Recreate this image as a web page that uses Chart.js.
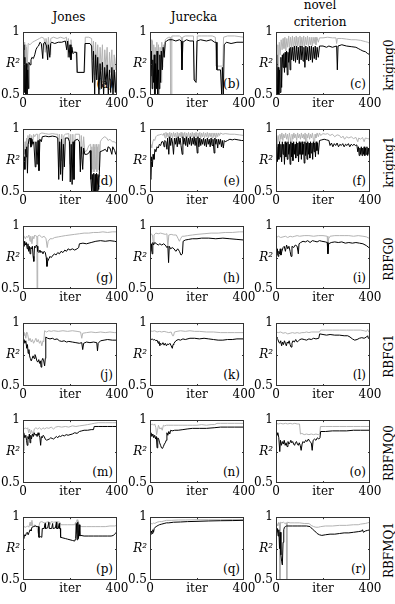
<!DOCTYPE html>
<html>
<head>
<meta charset="utf-8">
<script src="https://cdn.jsdelivr.net/npm/chart.js@4.4.1/dist/chart.umd.min.js"></script>
<style>
  body { margin: 0; background: #fff; }
  #fig { position: relative; width: 395px; height: 604px; overflow: hidden; font-family: 'DejaVu Serif', serif; color: #000; }
  .txt { position: absolute; font-size: 12px; line-height: 14px; white-space: nowrap; z-index: 0; }
  .panel { position: absolute; z-index: 1; }
</style>
</head>
<body>
<div id="fig"></div>
<script>
// axis ticks (the middle tick carries the axis name, like the original)
const xTicks = [0, 200, 400];
const xTickLabels = ['0', 'iter', '400'];
const yTicks = [0.5, 0.75, 1];
const yTickLabels = ['0.5', 'R²', '1'];

const methods = ['Jones', 'Jurecka', 'novel criterion'];
const models = ['kriging0', 'kriging1', 'RBFG0', 'RBFG1', 'RBFMQ0', 'RBFMQ1'];
const panelTags = ['(a)','(b)','(c)','(d)','(e)','(f)','(g)','(h)','(i)','(j)','(k)','(l)','(m)','(n)','(o)','(p)','(q)','(r)'];

// [iter, R2]; black = first series, gray = second
const jonesK0Black = [[0,0.9],[4,0.86],[6,0.52],[8,0.8],[11,0.5],[14,0.75],[17,0.5],[20,0.7],[23,0.55],[25,0.76],[30,0.74],[34,0.78],[38,0.8],[44,0.79],[50,0.82],[55,0.86],[60,0.88],[66,0.89],[72,0.92],[78,0.91],[84,0.79],[87,0.91],[94,0.92],[100,0.89],[105,0.78],[108,0.9],[114,0.8],[118,0.91],[122,0.92],[135,0.91],[150,0.92],[165,0.92],[180,0.93],[186,0.86],[190,0.93],[196,0.8],[200,0.9],[204,0.78],[208,0.88],[212,0.83],[220,0.84],[228,0.84],[231,0.68],[260,0.68],[264,0.91],[285,0.91],[292,0.89],[296,0.6],[300,0.85],[305,0.5],[309,0.82],[314,0.62],[318,0.8],[323,0.5],[328,0.75],[333,0.55],[338,0.76],[343,0.5],[348,0.72],[353,0.58],[358,0.74],[363,0.5],[368,0.7],[373,0.52],[378,0.72],[383,0.5],[388,0.7],[393,0.52],[397,0.68],[400,0.66]];
const jonesK0Gray = [[0,0.93],[5,0.92],[7,0.55],[9,0.9],[12,0.52],[15,0.88],[18,0.72],[22,0.91],[30,0.9],[40,0.92],[50,0.93],[60,0.94],[70,0.95],[80,0.96],[90,0.95],[95,0.84],[98,0.95],[105,0.87],[108,0.96],[115,0.82],[118,0.95],[130,0.96],[145,0.95],[160,0.96],[175,0.95],[185,0.96],[190,0.8],[193,0.95],[200,0.79],[204,0.94],[210,0.85],[226,0.84],[229,0.68],[262,0.68],[265,0.96],[280,0.96],[292,0.95],[296,0.78],[300,0.93],[305,0.66],[309,0.92],[314,0.72],[318,0.9],[323,0.6],[328,0.88],[333,0.7],[338,0.9],[343,0.58],[348,0.86],[353,0.72],[358,0.88],[363,0.55],[368,0.84],[373,0.68],[378,0.86],[383,0.56],[388,0.82],[393,0.7],[397,0.8],[400,0.8]];

const jureckaK0Black = [[0,0.8],[3,0.65],[6,0.85],[9,0.55],[12,0.78],[15,0.6],[18,0.82],[21,0.5],[24,0.75],[27,0.55],[30,0.85],[33,0.5],[36,0.7],[39,0.55],[42,0.82],[45,0.6],[48,0.85],[52,0.7],[56,0.88],[60,0.8],[65,0.92],[70,0.93],[80,0.94],[95,0.94],[110,0.93],[125,0.94],[133,0.93],[136,0.7],[140,0.92],[155,0.94],[170,0.93],[185,0.93],[188,0.62],[196,0.6],[200,0.93],[215,0.94],[240,0.93],[260,0.94],[275,0.92],[282,0.92],[285,0.7],[300,0.7],[305,0.5],[308,0.72],[312,0.5],[316,0.9],[325,0.92],[345,0.91],[370,0.92],[400,0.92]];
const jureckaK0Gray = [[0,0.92],[3,0.85],[5,0.94],[8,0.7],[10,0.93],[13,0.62],[16,0.9],[19,0.5],[22,0.88],[26,0.55],[29,0.92],[33,0.65],[36,0.9],[40,0.5],[43,0.88],[47,0.6],[50,0.92],[54,0.72],[57,0.9],[62,0.8],[65,0.94],[70,0.95],[80,0.96],[86,0.96],[88,0.5],[91,0.5],[93,0.97],[110,0.97],[125,0.97],[133,0.96],[136,0.78],[139,0.96],[150,0.97],[170,0.97],[185,0.97],[188,0.62],[198,0.62],[201,0.97],[220,0.97],[245,0.97],[265,0.97],[278,0.96],[281,0.73],[310,0.73],[313,0.96],[330,0.97],[360,0.97],[400,0.96]];

const novelK0Black = [[0,0.82],[2,0.6],[4,0.78],[6,0.5],[9,0.72],[12,0.5],[15,0.7],[18,0.52],[21,0.8],[24,0.56],[27,0.82],[30,0.72],[33,0.83],[36,0.68],[39,0.84],[42,0.72],[45,0.85],[48,0.66],[51,0.84],[54,0.76],[57,0.87],[60,0.7],[63,0.88],[67,0.78],[71,0.88],[75,0.77],[79,0.89],[83,0.76],[87,0.89],[91,0.78],[95,0.88],[99,0.75],[103,0.89],[107,0.78],[111,0.89],[115,0.77],[119,0.88],[123,0.72],[127,0.89],[131,0.78],[135,0.88],[139,0.77],[143,0.89],[147,0.78],[151,0.89],[155,0.76],[159,0.88],[163,0.79],[167,0.89],[171,0.78],[175,0.88],[180,0.8],[185,0.89],[200,0.89],[215,0.88],[225,0.89],[240,0.88],[258,0.89],[261,0.7],[264,0.89],[280,0.9],[300,0.89],[320,0.885],[340,0.88],[350,0.87],[360,0.86],[370,0.85],[380,0.845],[390,0.83],[400,0.82]];
const novelK0Gray = [[0,0.9],[3,0.88],[5,0.62],[8,0.9],[11,0.7],[14,0.92],[18,0.82],[22,0.94],[26,0.86],[30,0.95],[34,0.87],[38,0.96],[42,0.85],[46,0.95],[50,0.88],[54,0.97],[58,0.87],[62,0.96],[66,0.88],[70,0.97],[74,0.86],[78,0.96],[82,0.89],[86,0.97],[90,0.87],[94,0.96],[98,0.89],[102,0.97],[106,0.88],[110,0.96],[114,0.89],[118,0.97],[122,0.88],[126,0.96],[130,0.9],[134,0.97],[138,0.88],[142,0.96],[146,0.9],[150,0.96],[154,0.89],[158,0.96],[162,0.91],[166,0.96],[170,0.9],[174,0.96],[180,0.92],[185,0.955],[200,0.955],[220,0.96],[240,0.955],[255,0.955],[258,0.91],[261,0.95],[280,0.95],[300,0.945],[320,0.94],[340,0.94],[360,0.935],[380,0.925],[390,0.92],[400,0.91]];

const jonesK1Black = [[0,0.75],[3,0.7],[5,0.78],[8,0.68],[10,0.84],[13,0.78],[16,0.86],[19,0.65],[22,0.88],[26,0.92],[30,0.93],[34,0.86],[38,0.92],[42,0.88],[46,0.9],[52,0.7],[55,0.9],[60,0.72],[64,0.91],[68,0.67],[72,0.92],[78,0.9],[82,0.94],[95,0.945],[110,0.94],[125,0.945],[140,0.94],[148,0.93],[152,0.6],[156,0.9],[160,0.64],[164,0.92],[168,0.59],[172,0.88],[176,0.7],[180,0.93],[192,0.93],[198,0.9],[201,0.58],[205,0.88],[209,0.56],[213,0.9],[217,0.6],[220,0.91],[232,0.92],[240,0.9],[244,0.66],[248,0.86],[254,0.68],[258,0.85],[263,0.8],[272,0.8],[280,0.81],[286,0.83],[289,0.6],[292,0.5],[295,0.64],[298,0.5],[301,0.65],[304,0.5],[307,0.64],[310,0.5],[313,0.65],[316,0.5],[319,0.64],[322,0.52],[325,0.66],[328,0.82],[340,0.83],[350,0.84],[358,0.82],[362,0.86],[370,0.85],[378,0.8],[382,0.86],[390,0.83],[395,0.8],[400,0.82]];
const jonesK1Gray = [[0,0.85],[3,0.88],[6,0.8],[9,0.9],[12,0.84],[15,0.93],[18,0.86],[21,0.95],[25,0.88],[29,0.96],[33,0.85],[37,0.95],[41,0.87],[45,0.96],[50,0.94],[55,0.96],[62,0.96],[66,0.7],[69,0.96],[80,0.97],[95,0.965],[110,0.96],[125,0.965],[140,0.96],[148,0.96],[152,0.7],[155,0.96],[162,0.75],[165,0.96],[170,0.68],[174,0.95],[180,0.96],[195,0.965],[200,0.72],[203,0.96],[208,0.6],[212,0.96],[218,0.7],[222,0.96],[240,0.96],[244,0.76],[248,0.95],[254,0.8],[258,0.94],[263,0.82],[272,0.83],[280,0.87],[288,0.88],[290,0.66],[293,0.86],[296,0.68],[299,0.88],[302,0.66],[305,0.86],[308,0.68],[311,0.88],[314,0.66],[317,0.86],[320,0.68],[323,0.88],[326,0.7],[329,0.9],[335,0.92],[340,0.93],[348,0.94],[356,0.93],[362,0.91],[370,0.92],[380,0.9],[388,0.9],[395,0.89],[400,0.9]];

const jureckaK1Black = [[0,0.66],[2,0.76],[4,0.6],[7,0.78],[10,0.7],[13,0.8],[17,0.76],[21,0.84],[25,0.82],[30,0.86],[35,0.85],[40,0.88],[45,0.87],[50,0.9],[56,0.9],[60,0.86],[63,0.91],[68,0.9],[72,0.84],[75,0.93],[80,0.8],[84,0.94],[88,0.87],[92,0.93],[96,0.89],[100,0.8],[104,0.93],[108,0.88],[112,0.93],[116,0.86],[120,0.94],[124,0.88],[128,0.93],[132,0.87],[137,0.8],[140,0.94],[144,0.88],[148,0.93],[152,0.87],[156,0.94],[160,0.86],[164,0.93],[168,0.88],[172,0.94],[176,0.87],[180,0.93],[184,0.88],[188,0.94],[192,0.87],[196,0.93],[201,0.81],[204,0.94],[208,0.86],[212,0.93],[216,0.87],[220,0.92],[224,0.88],[228,0.93],[232,0.87],[236,0.92],[240,0.86],[244,0.93],[248,0.88],[252,0.92],[256,0.86],[260,0.93],[264,0.87],[268,0.92],[273,0.81],[276,0.93],[280,0.88],[284,0.92],[288,0.85],[292,0.92],[296,0.88],[300,0.92],[304,0.86],[308,0.91],[312,0.85],[316,0.91],[320,0.9],[330,0.91],[340,0.92],[350,0.915],[360,0.92],[375,0.915],[390,0.91],[400,0.91]];
const jureckaK1Gray = [[0,0.86],[4,0.88],[8,0.85],[12,0.9],[16,0.92],[20,0.91],[25,0.94],[30,0.95],[40,0.955],[50,0.96],[56,0.95],[60,0.97],[64,0.93],[68,0.975],[72,0.94],[76,0.97],[80,0.93],[84,0.975],[88,0.94],[92,0.97],[96,0.93],[100,0.975],[104,0.94],[108,0.97],[112,0.92],[116,0.975],[120,0.93],[124,0.97],[128,0.94],[132,0.975],[136,0.93],[140,0.97],[144,0.94],[148,0.975],[152,0.93],[156,0.97],[160,0.94],[164,0.975],[168,0.93],[172,0.97],[176,0.94],[180,0.975],[184,0.93],[188,0.97],[192,0.94],[196,0.975],[200,0.93],[204,0.97],[208,0.94],[212,0.975],[216,0.93],[220,0.97],[224,0.94],[228,0.975],[232,0.93],[236,0.97],[240,0.94],[244,0.975],[248,0.93],[252,0.97],[256,0.94],[260,0.97],[264,0.93],[268,0.97],[272,0.94],[276,0.97],[280,0.93],[284,0.97],[288,0.94],[292,0.97],[296,0.95],[300,0.97],[310,0.96],[320,0.965],[340,0.96],[360,0.96],[380,0.955],[400,0.95]];

const novelK1Black = [[0,0.76],[3,0.86],[6,0.74],[9,0.88],[12,0.76],[15,0.9],[18,0.78],[21,0.88],[24,0.74],[27,0.9],[30,0.8],[33,0.88],[36,0.72],[39,0.9],[42,0.78],[45,0.89],[48,0.76],[51,0.9],[54,0.8],[57,0.88],[60,0.72],[63,0.9],[66,0.78],[69,0.89],[72,0.75],[75,0.9],[78,0.8],[81,0.88],[84,0.77],[87,0.9],[90,0.79],[93,0.89],[96,0.74],[99,0.9],[102,0.8],[105,0.89],[108,0.76],[111,0.9],[114,0.8],[117,0.88],[120,0.73],[123,0.9],[126,0.79],[129,0.89],[132,0.76],[135,0.9],[138,0.8],[141,0.89],[144,0.77],[147,0.9],[150,0.81],[153,0.89],[156,0.76],[159,0.9],[162,0.82],[165,0.89],[168,0.78],[171,0.9],[174,0.83],[177,0.89],[180,0.8],[185,0.91],[195,0.915],[205,0.92],[215,0.915],[225,0.91],[230,0.87],[236,0.89],[242,0.86],[248,0.885],[254,0.87],[260,0.89],[266,0.86],[272,0.88],[278,0.87],[284,0.885],[290,0.86],[296,0.88],[302,0.87],[308,0.885],[314,0.86],[320,0.88],[326,0.87],[332,0.88],[338,0.87],[344,0.875],[348,0.82],[351,0.86],[354,0.79],[357,0.85],[360,0.8],[363,0.86],[366,0.79],[369,0.85],[372,0.8],[375,0.86],[378,0.79],[381,0.85],[384,0.8],[387,0.86],[390,0.79],[393,0.85],[396,0.8],[400,0.84]];
const novelK1Gray = [[0,0.9],[3,0.94],[6,0.88],[9,0.95],[13,0.9],[17,0.96],[21,0.92],[25,0.97],[29,0.91],[33,0.96],[37,0.93],[41,0.97],[45,0.92],[49,0.96],[53,0.9],[57,0.97],[61,0.93],[65,0.83],[68,0.96],[72,0.92],[76,0.97],[80,0.93],[84,0.96],[88,0.91],[92,0.97],[96,0.93],[100,0.96],[104,0.92],[108,0.97],[112,0.93],[116,0.96],[120,0.92],[124,0.97],[128,0.84],[131,0.96],[135,0.93],[139,0.97],[143,0.92],[147,0.96],[151,0.93],[155,0.97],[159,0.92],[163,0.84],[166,0.96],[170,0.93],[175,0.97],[180,0.94],[185,0.97],[190,0.95],[200,0.965],[210,0.96],[220,0.965],[230,0.95],[240,0.96],[250,0.94],[260,0.955],[270,0.95],[278,0.93],[285,0.945],[292,0.92],[300,0.94],[310,0.93],[320,0.94],[330,0.925],[340,0.935],[348,0.9],[352,0.93],[360,0.92],[368,0.935],[375,0.9],[380,0.93],[390,0.925],[400,0.92]];

const jonesG0Black = [[0,0.86],[4,0.84],[7,0.88],[10,0.85],[14,0.87],[18,0.82],[21,0.86],[24,0.8],[27,0.84],[30,0.78],[33,0.83],[36,0.82],[40,0.84],[43,0.76],[46,0.72],[49,0.84],[53,0.83],[57,0.85],[60,0.84],[63,0.8],[68,0.79],[72,0.81],[76,0.79],[80,0.8],[85,0.78],[90,0.8],[95,0.79],[99,0.75],[102,0.68],[105,0.72],[110,0.74],[115,0.76],[120,0.75],[128,0.77],[135,0.78],[140,0.77],[148,0.79],[155,0.78],[162,0.8],[170,0.79],[178,0.81],[185,0.8],[192,0.82],[200,0.81],[210,0.82],[220,0.81],[230,0.82],[237,0.83],[240,0.86],[255,0.865],[270,0.86],[290,0.87],[310,0.88],[330,0.885],[350,0.88],[370,0.885],[390,0.88],[400,0.875]];
const jonesG0Gray = [[0,0.915],[5,0.92],[10,0.9],[15,0.92],[20,0.91],[25,0.93],[30,0.88],[33,0.92],[38,0.86],[42,0.92],[46,0.9],[50,0.93],[55,0.92],[59,0.92],[60,0.5],[62,0.5],[63,0.92],[70,0.93],[80,0.91],[90,0.92],[98,0.9],[103,0.83],[107,0.88],[115,0.9],[125,0.9],[135,0.91],[150,0.915],[165,0.92],[180,0.925],[200,0.93],[220,0.935],[240,0.94],[260,0.945],[280,0.945],[300,0.95],[320,0.95],[340,0.955],[360,0.95],[380,0.955],[400,0.955]];

const jureckaG0Black = [[0,0.84],[3,0.8],[6,0.86],[9,0.78],[12,0.87],[15,0.85],[20,0.87],[28,0.86],[35,0.85],[42,0.86],[50,0.85],[58,0.86],[65,0.85],[72,0.83],[76,0.84],[79,0.71],[82,0.84],[88,0.82],[95,0.83],[102,0.82],[110,0.8],[118,0.82],[125,0.8],[132,0.77],[138,0.78],[141,0.88],[150,0.89],[165,0.895],[180,0.9],[200,0.9],[220,0.905],[250,0.905],[280,0.9],[310,0.905],[340,0.9],[370,0.895],[400,0.89]];
const jureckaG0Gray = [[0,0.91],[5,0.94],[10,0.93],[14,0.87],[17,0.93],[25,0.945],[35,0.94],[45,0.945],[55,0.94],[65,0.935],[72,0.94],[76,0.83],[80,0.93],[90,0.935],[100,0.93],[112,0.93],[120,0.9],[125,0.88],[130,0.9],[137,0.92],[145,0.92],[160,0.925],[180,0.93],[200,0.935],[230,0.94],[260,0.945],[290,0.945],[320,0.95],[350,0.95],[380,0.955],[400,0.955]];

const novelG0Black = [[0,0.8],[3,0.77],[6,0.82],[9,0.76],[12,0.8],[15,0.78],[18,0.82],[21,0.77],[25,0.8],[30,0.83],[35,0.84],[40,0.8],[45,0.85],[50,0.82],[55,0.84],[60,0.8],[64,0.76],[68,0.84],[75,0.83],[82,0.85],[90,0.84],[95,0.78],[98,0.86],[105,0.87],[115,0.88],[125,0.875],[135,0.885],[145,0.87],[155,0.885],[165,0.88],[175,0.875],[185,0.885],[195,0.88],[210,0.875],[218,0.87],[221,0.78],[224,0.86],[235,0.87],[250,0.875],[265,0.87],[280,0.875],[295,0.865],[310,0.87],[325,0.865],[340,0.87],[355,0.865],[370,0.86],[385,0.845],[395,0.83],[400,0.82]];
const novelG0Gray = [[0,0.5],[2,0.5],[3,0.91],[10,0.92],[20,0.91],[30,0.915],[40,0.92],[50,0.91],[60,0.92],[70,0.915],[80,0.92],[90,0.925],[100,0.92],[120,0.925],[140,0.925],[160,0.92],[180,0.925],[200,0.925],[218,0.92],[221,0.8],[224,0.9],[230,0.92],[250,0.925],[270,0.925],[290,0.925],[310,0.925],[330,0.92],[350,0.925],[370,0.92],[385,0.915],[400,0.9]];

const jonesG1Black = [[0,0.85],[4,0.87],[8,0.84],[12,0.86],[16,0.8],[19,0.83],[22,0.76],[25,0.79],[28,0.74],[31,0.72],[35,0.7],[39,0.72],[43,0.74],[47,0.72],[51,0.75],[55,0.73],[59,0.7],[63,0.69],[67,0.71],[71,0.68],[74,0.7],[77,0.65],[80,0.7],[84,0.72],[88,0.7],[92,0.66],[95,0.72],[97,0.89],[105,0.88],[115,0.875],[125,0.88],[135,0.87],[145,0.875],[155,0.86],[165,0.855],[175,0.86],[185,0.85],[195,0.855],[210,0.85],[225,0.845],[240,0.84],[250,0.845],[254,0.79],[258,0.84],[270,0.85],[285,0.845],[300,0.85],[314,0.845],[317,0.78],[320,0.84],[330,0.86],[345,0.865],[360,0.87],[380,0.865],[400,0.865]];
const jonesG1Gray = [[0,0.93],[4,0.9],[8,0.92],[12,0.88],[16,0.93],[20,0.91],[25,0.86],[30,0.88],[35,0.85],[40,0.87],[45,0.84],[50,0.86],[55,0.88],[60,0.85],[65,0.87],[70,0.84],[75,0.86],[80,0.82],[85,0.86],[88,0.85],[92,0.94],[100,0.93],[110,0.94],[120,0.935],[130,0.94],[150,0.935],[170,0.94],[190,0.935],[210,0.94],[230,0.935],[245,0.93],[250,0.88],[254,0.92],[270,0.925],[290,0.93],[310,0.925],[330,0.93],[350,0.925],[370,0.93],[390,0.925],[400,0.925]];

const jureckaG1Black = [[0,0.875],[5,0.87],[10,0.875],[15,0.865],[20,0.87],[25,0.86],[30,0.865],[35,0.84],[38,0.855],[42,0.82],[45,0.84],[50,0.83],[55,0.845],[60,0.825],[65,0.84],[70,0.82],[75,0.835],[80,0.83],[85,0.84],[90,0.82],[95,0.8],[98,0.83],[102,0.84],[110,0.86],[120,0.87],[130,0.865],[140,0.875],[150,0.87],[170,0.88],[190,0.88],[210,0.875],[230,0.88],[250,0.875],[270,0.87],[290,0.865],[310,0.865],[330,0.87],[350,0.87],[370,0.875],[400,0.875]];
const jureckaG1Gray = [[0,0.94],[10,0.935],[20,0.94],[30,0.93],[40,0.935],[50,0.93],[60,0.935],[70,0.93],[80,0.925],[90,0.93],[96,0.9],[100,0.9],[104,0.93],[115,0.935],[130,0.94],[150,0.935],[170,0.94],[190,0.935],[210,0.935],[240,0.93],[270,0.93],[300,0.925],[330,0.925],[360,0.925],[400,0.925]];

const novelG1Black = [[0,0.89],[4,0.88],[8,0.87],[12,0.85],[16,0.84],[20,0.86],[24,0.82],[28,0.85],[32,0.83],[36,0.86],[40,0.84],[44,0.82],[48,0.85],[52,0.84],[56,0.86],[60,0.83],[64,0.81],[68,0.84],[72,0.86],[78,0.85],[84,0.87],[90,0.85],[96,0.86],[102,0.87],[110,0.875],[120,0.87],[130,0.865],[140,0.875],[150,0.87],[160,0.88],[170,0.875],[182,0.88],[186,0.915],[200,0.91],[215,0.905],[230,0.91],[250,0.905],[270,0.905],[290,0.9],[305,0.9],[315,0.89],[325,0.875],[335,0.865],[345,0.87],[355,0.88],[365,0.885],[375,0.88],[385,0.89],[390,0.9],[393,0.88],[400,0.875]];
const novelG1Gray = [[0,0.93],[10,0.925],[20,0.93],[30,0.92],[40,0.925],[50,0.915],[60,0.92],[70,0.925],[80,0.92],[90,0.925],[100,0.92],[110,0.925],[120,0.925],[130,0.93],[140,0.925],[150,0.93],[170,0.93],[185,0.93],[190,0.945],[210,0.945],[240,0.945],[270,0.945],[300,0.945],[330,0.945],[360,0.945],[375,0.94],[385,0.935],[390,0.95],[395,0.93],[400,0.935]];

const jonesMQ0Black = [[0,0.78],[2,0.76],[4,0.9],[8,0.86],[12,0.88],[15,0.84],[18,0.8],[21,0.87],[24,0.85],[27,0.89],[30,0.82],[33,0.88],[36,0.85],[40,0.89],[44,0.87],[48,0.9],[52,0.88],[56,0.89],[60,0.87],[64,0.9],[68,0.88],[72,0.86],[75,0.8],[78,0.87],[82,0.86],[86,0.88],[90,0.87],[95,0.85],[100,0.84],[106,0.845],[112,0.85],[118,0.86],[124,0.855],[130,0.85],[136,0.86],[142,0.87],[148,0.86],[154,0.875],[160,0.87],[168,0.88],[176,0.875],[184,0.885],[192,0.88],[200,0.885],[210,0.89],[220,0.9],[230,0.895],[240,0.91],[250,0.915],[260,0.92],[275,0.92],[290,0.925],[300,0.925],[303,0.95],[320,0.95],[340,0.95],[360,0.95],[380,0.95],[400,0.95]];
const jonesMQ0Gray = [[0,0.935],[5,0.93],[10,0.94],[15,0.93],[20,0.94],[24,0.9],[28,0.93],[32,0.89],[36,0.92],[40,0.9],[44,0.885],[48,0.93],[55,0.94],[62,0.93],[70,0.94],[78,0.925],[85,0.94],[92,0.93],[100,0.94],[110,0.935],[120,0.945],[130,0.93],[139,0.945],[150,0.95],[165,0.945],[180,0.95],[195,0.945],[210,0.955],[225,0.95],[240,0.955],[260,0.96],[275,0.965],[290,0.97],[303,0.975],[320,0.98],[350,0.98],[380,0.98],[400,0.98]];

const jureckaMQ0Black = [[0,0.88],[4,0.9],[8,0.87],[12,0.89],[16,0.86],[20,0.88],[24,0.85],[27,0.87],[30,0.78],[33,0.86],[37,0.85],[41,0.82],[45,0.8],[49,0.78],[53,0.775],[57,0.79],[61,0.81],[65,0.82],[69,0.84],[72,0.9],[76,0.88],[80,0.91],[84,0.89],[88,0.92],[94,0.915],[105,0.92],[120,0.92],[140,0.925],[158,0.93],[180,0.935],[210,0.935],[240,0.935],[273,0.94],[300,0.945],[330,0.945],[360,0.945],[400,0.945]];
const jureckaMQ0Gray = [[0,0.97],[5,0.965],[10,0.97],[15,0.96],[20,0.97],[25,0.94],[28,0.885],[32,0.92],[36,0.96],[42,0.93],[48,0.94],[52,0.92],[57,0.96],[62,0.955],[70,0.96],[80,0.96],[100,0.96],[120,0.96],[140,0.96],[160,0.96],[180,0.96],[200,0.96],[220,0.965],[240,0.96],[260,0.965],[275,0.965],[285,0.975],[300,0.975],[330,0.975],[360,0.975],[400,0.975]];

const novelMQ0Black = [[0,0.9],[4,0.88],[8,0.9],[12,0.86],[16,0.75],[19,0.84],[23,0.8],[27,0.83],[31,0.81],[35,0.84],[39,0.8],[43,0.82],[47,0.79],[51,0.83],[55,0.81],[59,0.82],[63,0.84],[67,0.82],[71,0.83],[75,0.81],[79,0.8],[83,0.82],[87,0.83],[91,0.81],[95,0.8],[99,0.82],[103,0.8],[107,0.76],[111,0.81],[115,0.83],[120,0.82],[126,0.84],[132,0.83],[138,0.85],[144,0.83],[150,0.82],[154,0.76],[158,0.84],[164,0.85],[170,0.84],[176,0.86],[182,0.85],[187,0.86],[190,0.91],[210,0.91],[240,0.915],[270,0.915],[300,0.915],[330,0.92],[360,0.92],[400,0.92]];
const novelMQ0Gray = [[0,0.975],[10,0.97],[20,0.975],[30,0.97],[40,0.975],[50,0.97],[60,0.975],[70,0.97],[80,0.975],[90,0.97],[100,0.97],[104,0.89],[110,0.895],[120,0.885],[130,0.89],[140,0.885],[150,0.89],[160,0.885],[170,0.89],[180,0.885],[186,0.89],[189,0.95],[210,0.95],[240,0.95],[270,0.95],[300,0.95],[330,0.95],[360,0.95],[400,0.95]];

const jonesMQ1Black = [[0,0.85],[3,0.83],[6,0.86],[10,0.85],[14,0.87],[18,0.88],[22,0.86],[26,0.88],[30,0.9],[34,0.89],[38,0.92],[45,0.925],[52,0.93],[60,0.925],[66,0.925],[68,0.84],[75,0.845],[80,0.84],[82,0.91],[90,0.91],[94,0.95],[96,0.91],[105,0.915],[110,0.96],[112,0.91],[122,0.91],[126,0.95],[128,0.91],[138,0.915],[142,0.96],[144,0.91],[150,0.91],[154,0.95],[156,0.91],[159,0.91],[160,0.84],[170,0.835],[180,0.83],[190,0.825],[200,0.82],[210,0.815],[220,0.81],[224,0.83],[227,0.95],[230,0.82],[233,0.96],[236,0.83],[239,0.94],[242,0.85],[246,0.855],[260,0.85],[280,0.85],[300,0.85],[320,0.85],[340,0.85],[360,0.85],[375,0.85],[385,0.855],[392,0.87],[400,0.885]];
const jonesMQ1Gray = [[0,0.91],[5,0.925],[10,0.92],[15,0.925],[20,0.93],[25,0.92],[30,0.96],[34,0.93],[38,0.975],[42,0.93],[46,0.925],[50,0.94],[55,0.93],[60,0.92],[64,0.87],[68,0.93],[72,0.96],[80,0.965],[90,0.955],[100,0.96],[110,0.965],[115,0.94],[120,0.965],[130,0.96],[145,0.965],[157,0.96],[162,0.94],[175,0.94],[190,0.94],[205,0.94],[220,0.94],[224,0.96],[227,0.87],[230,0.98],[233,0.88],[236,0.97],[239,0.93],[250,0.925],[270,0.925],[290,0.925],[310,0.925],[330,0.925],[350,0.925],[370,0.93],[390,0.93],[400,0.935]];

const jureckaMQ1Black = [[0,0.875],[3,0.86],[6,0.89],[9,0.87],[12,0.9],[15,0.88],[18,0.91],[22,0.92],[26,0.925],[30,0.93],[35,0.935],[40,0.94],[50,0.945],[60,0.95],[70,0.955],[80,0.955],[100,0.96],[130,0.962],[160,0.965],[200,0.967],[250,0.97],[300,0.972],[350,0.973],[400,0.975]];
const jureckaMQ1Gray = [[0,0.94],[5,0.95],[10,0.945],[15,0.955],[20,0.95],[30,0.96],[40,0.965],[50,0.965],[60,0.97],[70,0.975],[90,0.975],[120,0.978],[150,0.978],[200,0.98],[250,0.98],[300,0.98],[350,0.982],[400,0.982]];

const novelMQ1Black = [[0,0.9],[3,0.88],[6,0.91],[9,0.85],[12,0.9],[15,0.75],[18,0.88],[21,0.7],[24,0.65],[27,0.62],[30,0.8],[33,0.9],[36,0.92],[40,0.925],[45,0.93],[55,0.93],[70,0.93],[90,0.93],[110,0.93],[130,0.93],[145,0.925],[155,0.905],[165,0.89],[175,0.87],[185,0.86],[195,0.855],[210,0.86],[230,0.865],[250,0.865],[270,0.87],[290,0.875],[310,0.875],[330,0.88],[350,0.885],[365,0.89],[368,0.9],[372,0.88],[380,0.89],[390,0.895],[400,0.9]];
const novelMQ1Gray = [[0,0.94],[4,0.95],[8,0.93],[12,0.96],[15,0.95],[16,0.5],[18,0.5],[19,0.96],[25,0.955],[32,0.96],[38,0.95],[44,0.955],[45,0.5],[47,0.5],[48,0.96],[60,0.955],[80,0.955],[100,0.955],[120,0.95],[140,0.95],[150,0.935],[160,0.925],[170,0.92],[180,0.92],[190,0.925],[210,0.93],[240,0.93],[270,0.935],[300,0.935],[330,0.94],[350,0.94],[360,0.945],[380,0.95],[390,0.955],[400,0.96]];

// one row per model, one column per method
const grid = [
  [[jonesK0Black, jonesK0Gray], [jureckaK0Black, jureckaK0Gray], [novelK0Black, novelK0Gray]],
  [[jonesK1Black, jonesK1Gray], [jureckaK1Black, jureckaK1Gray], [novelK1Black, novelK1Gray]],
  [[jonesG0Black, jonesG0Gray], [jureckaG0Black, jureckaG0Gray], [novelG0Black, novelG0Gray]],
  [[jonesG1Black, jonesG1Gray], [jureckaG1Black, jureckaG1Gray], [novelG1Black, novelG1Gray]],
  [[jonesMQ0Black, jonesMQ0Gray], [jureckaMQ0Black, jureckaMQ0Gray], [novelMQ0Black, novelMQ0Gray]],
  [[jonesMQ1Black, jonesMQ1Gray], [jureckaMQ1Black, jureckaMQ1Gray], [novelMQ1Black, novelMQ1Gray]]
];

// layout of the plot boxes (px)
const colLeft = [23, 150, 276];
const rowTop = [32, 129, 226, 323, 420, 517];
const plotW = 94, plotH = 65;
const yAxisW = 30, xAxisH = 20, padTop = 8, padRight = 14;

const fig = document.getElementById('fig');
const serif = "'DejaVu Serif', serif";

function addText(str, left, top, width, align, extra) {
  const d = document.createElement('div');
  d.className = 'txt';
  d.textContent = str;
  d.style.left = left + 'px';
  d.style.top = top + 'px';
  d.style.width = width + 'px';
  d.style.textAlign = align;
  if (extra) Object.assign(d.style, extra);
  fig.appendChild(d);
  return d;
}

// column headers
addText(methods[0], colLeft[0] + plotW / 2 - 50 - 1, 10, 100, 'center');
addText(methods[1], colLeft[1] + plotW / 2 - 50 - 3, 10, 100, 'center');
addText('novel', colLeft[2] + plotW / 2 - 50 - 3, -2, 100, 'center');
addText('criterion', colLeft[2] + plotW / 2 - 50 - 3, 15, 100, 'center');

// row labels, rotated
models.forEach((m, r) => {
  addText(m, 389 - 40, rowTop[r] + plotH / 2 - 7, 80, 'center', { transform: 'rotate(-90deg)' });
});

// box + inner tick marks, MATLAB style
const boxPlugin = {
  id: 'box',
  afterDatasetsDraw(chart) {
    const { ctx, chartArea: a, scales } = chart;
    ctx.save();
    ctx.strokeStyle = '#333';
    ctx.lineWidth = 1;
    ctx.strokeRect(Math.round(a.left) + 0.5, Math.round(a.top) + 0.5, Math.round(a.right - a.left) - 1, Math.round(a.bottom - a.top) - 1);
    ctx.beginPath();
    xTicks.slice(1, -1).forEach(v => {
      const px = Math.round(scales.x.getPixelForValue(v)) + 0.5;
      ctx.moveTo(px, a.top); ctx.lineTo(px, a.top + 2);
      ctx.moveTo(px, a.bottom); ctx.lineTo(px, a.bottom - 2);
    });
    yTicks.slice(1, -1).forEach(v => {
      const py = Math.round(scales.y.getPixelForValue(v)) + 0.5;
      ctx.moveTo(a.left, py); ctx.lineTo(a.left + 2, py);
      ctx.moveTo(a.right, py); ctx.lineTo(a.right - 2, py);
    });
    ctx.stroke();
    ctx.restore();
  }
};

const toXY = pts => pts.map(([x, y]) => ({ x, y }));

grid.forEach((row, r) => {
  row.forEach(([black, gray], c) => {
    const px = colLeft[c], py = rowTop[r];

    // panel tag sits under the curves
    addText(panelTags[r * 3 + c], px + plotW - 4 - 40, py + plotH - 9 - 11, 40, 'right');

    const wrap = document.createElement('div');
    wrap.className = 'panel';
    wrap.style.left = (px - yAxisW) + 'px';
    wrap.style.top = (py - padTop) + 'px';
    const cv = document.createElement('canvas');
    cv.width = yAxisW + plotW + padRight;
    cv.height = padTop + plotH + xAxisH;
    wrap.appendChild(cv);
    fig.appendChild(wrap);

    const chart = new Chart(cv.getContext('2d'), {
      type: 'line',
      data: {
        datasets: [
          { data: toXY(black), borderColor: '#000', borderWidth: 1 },
          { data: toXY(gray), borderColor: '#b3b3b3', borderWidth: 1 }
        ]
      },
      options: {
        responsive: false,
        animation: false,
        devicePixelRatio: 1,
        layout: { padding: { top: padTop, right: padRight, left: 0, bottom: 0 } },
        plugins: { legend: { display: false }, tooltip: { enabled: false } },
        elements: { point: { radius: 0 }, line: { tension: 0 } },
        scales: {
          x: {
            type: 'linear', min: 0, max: 400,
            afterBuildTicks: axis => { axis.ticks = xTicks.map(v => ({ value: v })); },
            afterFit: axis => { axis.height = xAxisH; },
            ticks: {
              callback: (v, i) => xTickLabels[i],
              font: { family: serif, size: 12 }, color: '#000',
              maxRotation: 0, autoSkip: false, padding: 2
            },
            grid: { display: false, drawTicks: false },
            border: { display: false }
          },
          y: {
            type: 'linear', min: 0.5, max: 1,
            afterBuildTicks: axis => { axis.ticks = yTicks.map(v => ({ value: v })); },
            afterFit: axis => { axis.width = yAxisW; },
            ticks: {
              callback: (v, i) => yTickLabels[i],
              font: ctx => ({ family: serif, size: 12, style: ctx.tick && ctx.tick.value === 0.75 ? 'italic' : 'normal' }),
              color: '#000', autoSkip: false, padding: 3
            },
            grid: { display: false, drawTicks: false },
            border: { display: false }
          }
        }
      },
      plugins: [boxPlugin]
    });

    // pin the plot box to its place in the figure
    const a = chart.chartArea;
    wrap.style.left = (px - a.left) + 'px';
    wrap.style.top = (py - a.top) + 'px';
  });
});
</script>
</body>
</html>
